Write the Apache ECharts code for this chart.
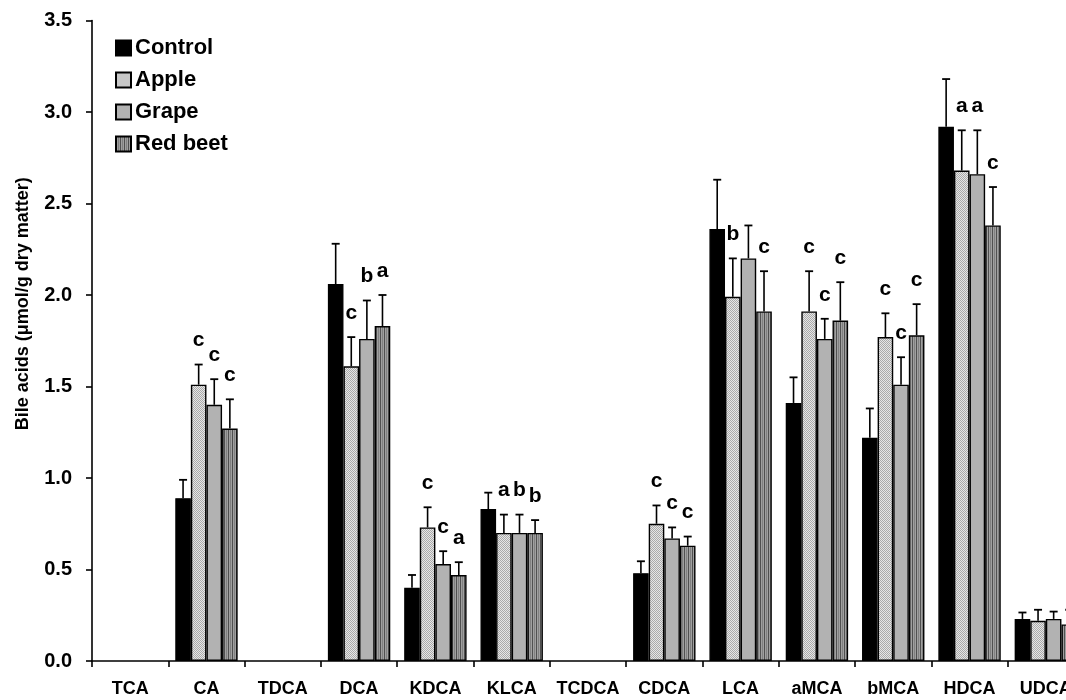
<!DOCTYPE html>
<html>
<head>
<meta charset="utf-8">
<script src="https://cdn.jsdelivr.net/npm/echarts@6/dist/echarts.min.js"></script>
<style>
  html, body { margin: 0; padding: 0; background: #fff; }
</style>
</head>
<body>
<div id="BileChart" style="width: 1066px; height: 700px;"></div>
<script>
// categories on the x axis
const categories = ['TCA', 'CA', 'TDCA', 'DCA', 'KDCA', 'KLCA', 'TCDCA', 'CDCA', 'LCA', 'aMCA', 'bMCA', 'HDCA', 'UDCA'];
const seriesNames = ['Control', 'Apple', 'Grape', 'Red beet'];
const yTicks = [0, 0.5, 1.0, 1.5, 2.0, 2.5, 3.0, 3.5];

// mean values (µmol/g dry matter)
const control = [null, 0.89, null, 2.06, 0.40, 0.83, null, 0.48, 2.36, 1.41, 1.22, 2.92, 0.23];
const apple   = [null, 1.51, null, 1.61, 0.73, 0.70, null, 0.75, 1.99, 1.91, 1.77, 2.68, 0.22];
const grape   = [null, 1.40, null, 1.76, 0.53, 0.70, null, 0.67, 2.20, 1.76, 1.51, 2.66, 0.23];
const redBeet = [null, 1.27, null, 1.83, 0.47, 0.70, null, 0.63, 1.91, 1.86, 1.78, 2.38, 0.20];

// error bars (upper only)
const controlErr = [null, 0.10, null, 0.22, 0.07, 0.09, null, 0.065, 0.27, 0.14, 0.16, 0.26, 0.035];
const appleErr   = [null, 0.11, null, 0.16, 0.11, 0.10, null, 0.10, 0.21, 0.22, 0.13, 0.22, 0.06];
const grapeErr   = [null, 0.14, null, 0.21, 0.07, 0.10, null, 0.06, 0.18, 0.11, 0.15, 0.24, 0.04];
const redBeetErr = [null, 0.16, null, 0.17, 0.07, 0.07, null, 0.05, 0.22, 0.21, 0.17, 0.21, 0.08];

// significance letters
const controlSig = ['', '', '', '', '', '', '', '', '', '', '', '', ''];
const appleSig   = ['', 'c', '', 'c', 'c', 'a', '', 'c', 'b', 'c', 'c', 'a', ''];
const grapeSig   = ['', 'c', '', 'b', 'c', 'b', '', 'c', '', 'c', 'c', 'a', ''];
const redBeetSig = ['', 'c', '', 'a', 'a', 'b', '', 'c', 'c', 'c', 'c', 'c', ''];

const FONT = '"Liberation Sans", Arial, sans-serif';
const BAR_W = 15.6;

function makePattern(w, h, draw) {
  const c = document.createElement('canvas');
  c.width = w;
  c.height = h;
  draw(c.getContext('2d'));
  return { image: c, repeat: 'repeat' };
}

// fill styles
const fills = [
  '#000000',
  makePattern(2, 2, (ctx) => {
    ctx.fillStyle = '#e6e6e6';
    ctx.fillRect(0, 0, 2, 2);
    ctx.fillStyle = '#aaaaaa';
    ctx.fillRect(0, 0, 1, 1);
    ctx.fillRect(1, 1, 1, 1);
  }),
  '#b2b2b2',
  makePattern(4, 4, (ctx) => {
    ctx.fillStyle = '#a0a0a0';
    ctx.fillRect(0, 0, 4, 4);
    ctx.fillStyle = '#505050';
    ctx.fillRect(0, 0, 1, 4);
    ctx.fillStyle = '#808080';
    ctx.fillRect(2, 0, 1, 4);
  }),
];

const values = [control, apple, grape, redBeet];
const errs = [controlErr, appleErr, grapeErr, redBeetErr];
const sigs = [controlSig, appleSig, grapeSig, redBeetSig];

let chart = echarts.init(document.getElementById('BileChart'));

let barSeries = seriesNames.map((name, i) => ({
  name: name,
  type: 'bar',
  data: values[i],
  barWidth: BAR_W,
  barGap: '0%',
  itemStyle: {
    color: fills[i],
    borderColor: '#000',
    borderWidth: 1.4,
  },
  z: 2,
}));

// error bar + letter, drawn on top of each bar
let errSeries = seriesNames.map((name, i) => ({
  name: name + ' err',
  type: 'custom',
  z: 3,
  data: categories.map((c, k) => [k, values[i][k], errs[i][k]]),
  encode: { x: 0, y: 2 },
  renderItem: function (params, api) {
    const k = params.dataIndex;
    const top = values[i][k];
    const err = errs[i][k];
    if (top == null) return null;
    const base = api.coord([k, top]);
    const cap = api.coord([k, top + err]);
    const x = base[0] + (i - 1.5) * BAR_W;
    const children = [
      { type: 'line', shape: { x1: x, y1: base[1], x2: x, y2: cap[1] },
        style: { stroke: '#000', lineWidth: 1.6 } },
      { type: 'line', shape: { x1: x - 4, y1: cap[1], x2: x + 4, y2: cap[1] },
        style: { stroke: '#000', lineWidth: 1.8 } },
    ];
    const letter = sigs[i][k];
    if (letter) {
      children.push({
        type: 'text',
        style: {
          text: letter, x: x, y: cap[1] - 24,
          align: 'center', verticalAlign: 'middle',
          font: 'bold 21px ' + FONT, fill: '#000',
        },
      });
    }
    return { type: 'group', children: children };
  },
}));

let option = {
  animation: false,
  backgroundColor: '#fff',
  grid: {
    left: 92,
    top: 20.5,
    width: 992,
    bottom: 39,
    outerBoundsMode: 'none',
  },
  legend: {
    data: seriesNames,
    orient: 'vertical',
    left: 115,
    top: 37,
    padding: 0,
    itemWidth: 15,
    itemHeight: 15,
    itemGap: 10,
    icon: 'rect',
    textStyle: { fontFamily: FONT, fontWeight: 'bold', fontSize: 22, color: '#000', padding: [0, 0, 0, -1] },
  },
  xAxis: {
    type: 'category',
    data: categories,
    axisLine: { lineStyle: { color: '#000', width: 1.6 } },
    axisTick: { show: true, interval: 0, length: 6, lineStyle: { color: '#000', width: 1.6 } },
    axisLabel: { interval: 0, margin: 19, fontFamily: FONT, fontWeight: 'bold', fontSize: 18, color: '#000' },
    splitLine: { show: false },
  },
  yAxis: {
    type: 'value',
    min: 0,
    max: 3.5,
    interval: 0.5,
    name: 'Bile acids (\u03bcmol/g dry matter)',
    nameLocation: 'middle',
    nameRotate: 90,
    nameGap: 60,
    nameTextStyle: {
      fontFamily: FONT, fontWeight: 'bold', fontSize: 18, color: '#000',
      padding: [0, 0, 0, 74],
    },
    axisLine: { show: true, lineStyle: { color: '#000', width: 1.6 } },
    axisTick: { show: true, length: 6, lineStyle: { color: '#000', width: 1.6 } },
    axisLabel: {
      margin: 20,
      fontFamily: FONT, fontWeight: 'bold', fontSize: 20, color: '#000',
      formatter: (v) => yTicks.indexOf(v) >= 0 ? v.toFixed(1) : '',
    },
    splitLine: { show: false },
  },
  series: barSeries.concat(errSeries),
};

chart.setOption(option);
</script>
</body>
</html>
